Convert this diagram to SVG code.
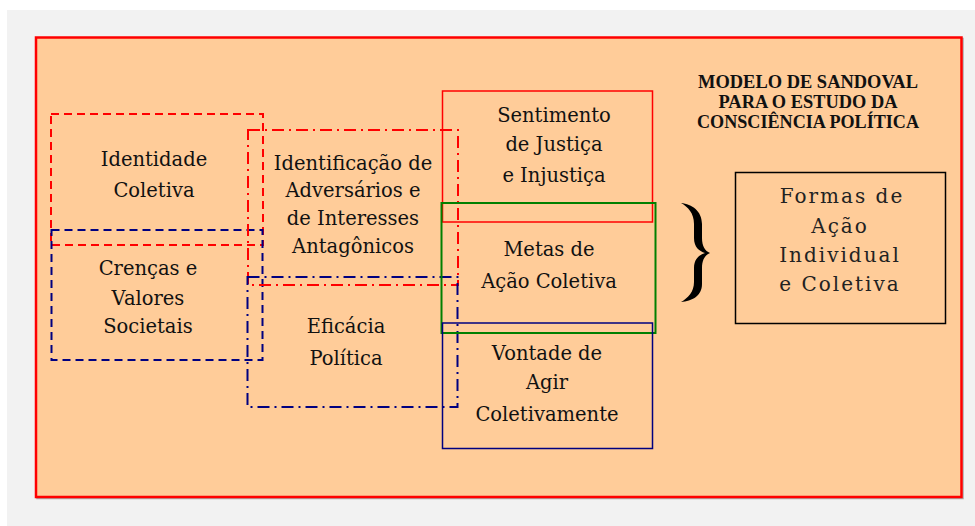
<svg xmlns="http://www.w3.org/2000/svg" width="975" height="526" viewBox="0 0 975 526">
<style>
.t{font-family:"DejaVu Serif","Liberation Serif",serif;font-size:19.5px;fill:#111;text-anchor:middle}
.f{font-family:"DejaVu Serif","Liberation Serif",serif;font-size:20px;fill:#222;text-anchor:middle;letter-spacing:2px}
.h{font-family:"Liberation Serif","Times New Roman",serif;font-size:18px;font-weight:bold;fill:#111;text-anchor:middle}
.box{fill:none}
.rd{stroke:#ff0000;stroke-width:2;stroke-dasharray:8 5}
.bd{stroke:#000080;stroke-width:2;stroke-dasharray:8 5}
.rdd{stroke:#ff0000;stroke-width:2;stroke-dasharray:12 5 2 5}
.bdd{stroke:#000080;stroke-width:2;stroke-dasharray:12 5 2 5}
</style>
<rect x="0" y="0" width="975" height="526" fill="#ffffff"/>
<rect x="7" y="10" width="968" height="516" fill="#f2f2f2"/>
<rect x="37" y="38.5" width="926" height="460" fill="none" stroke="#aaaaaa" stroke-width="1.5"/>
<rect id="frame" x="36" y="37.5" width="925.5" height="459.5" fill="#ffcc99" stroke="#ff0000" stroke-width="2.5"/>
<g id="title">
<text class="h" x="808" y="88" textLength="220" lengthAdjust="spacingAndGlyphs">MODELO DE SANDOVAL</text>
<text class="h" x="808" y="107.5" textLength="179" lengthAdjust="spacingAndGlyphs">PARA O ESTUDO DA</text>
<text class="h" x="808" y="128" textLength="222" lengthAdjust="spacingAndGlyphs">CONSCIÊNCIA POLÍTICA</text>
</g>
<g id="identidade">
<rect class="box rd" x="51" y="114" width="212" height="131"/>
<text class="t" x="154" y="166">Identidade</text>
<text class="t" x="154" y="197">Coletiva</text>
</g>
<g id="crencas">
<rect class="box bd" x="51.5" y="230" width="211" height="130"/>
<text class="t" x="148" y="275">Crenças e</text>
<text class="t" x="148" y="305">Valores</text>
<text class="t" x="148" y="333">Societais</text>
</g>
<g id="identificacao">
<rect class="box rdd" x="248" y="130" width="210" height="155"/>
<text class="t" x="353" y="170">Identificação de</text>
<text class="t" x="353" y="197">Adversários e</text>
<text class="t" x="353" y="225">de Interesses</text>
<text class="t" x="353" y="253">Antagônicos</text>
</g>
<g id="eficacia">
<rect class="box bdd" x="247.5" y="277" width="210" height="130"/>
<text class="t" x="346" y="333">Eficácia</text>
<text class="t" x="346" y="365">Política</text>
</g>
<g id="sentimento">
<rect class="box" x="442.5" y="91" width="210" height="131" stroke="#ff0000" stroke-width="1.5"/>
<text class="t" x="554" y="122">Sentimento</text>
<text class="t" x="554" y="151">de Justiça</text>
<text class="t" x="554" y="182">e Injustiça</text>
</g>
<g id="metas">
<rect class="box" x="441.5" y="203" width="214" height="130" stroke="#008000" stroke-width="2"/>
<text class="t" x="549" y="256">Metas de</text>
<text class="t" x="549" y="288">Ação Coletiva</text>
</g>
<g id="vontade">
<rect class="box" x="442.5" y="323" width="210" height="125.5" stroke="#000080" stroke-width="1.5"/>
<text class="t" x="547" y="360">Vontade de</text>
<text class="t" x="547" y="389">Agir</text>
<text class="t" x="547" y="421">Coletivamente</text>
</g>
<g id="formas">
<rect class="box" x="735.5" y="172.5" width="210" height="151" stroke="#000000" stroke-width="1.5"/>
<text class="f" x="842" y="203">Formas de</text>
<text class="f" x="840" y="233">Ação</text>
<text class="f" x="840" y="262">Individual</text>
<text class="f" x="840" y="291">e Coletiva</text>
</g>
<g id="connectors">
<path d="M681,203 C692,204 702,211 702,224 L702,238 C702,246 705,251 710,253 C705,255 702,260 702,268 L702,284 C702,296 692,301 681,302 C688,298 694,292 694,282 L694,268 C694,259 699,255 705,253 C699,251 694,247 694,238 L694,224 C694,213 688,207 681,203 Z" fill="#000000"/>
</g>
</svg>
